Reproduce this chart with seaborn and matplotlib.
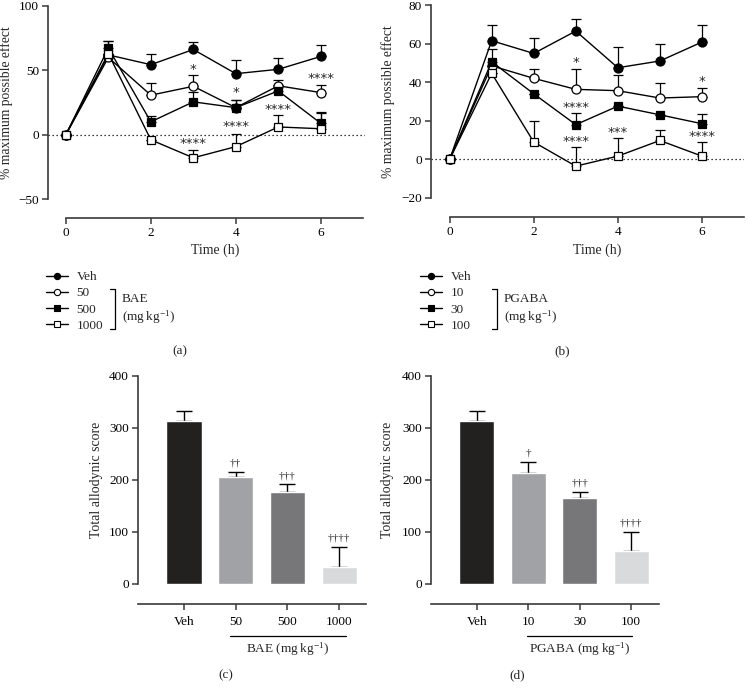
import numpy as np
import pandas as pd
import matplotlib
matplotlib.use("Agg")
import matplotlib.pyplot as plt
from matplotlib.lines import Line2D
import seaborn as sns

sns.set_style("ticks")
plt.rcParams['font.family'] = ['Liberation Serif', 'DejaVu Serif']
plt.rcParams['mathtext.fontset'] = 'custom'
plt.rcParams['mathtext.rm'] = 'Liberation Serif'
plt.rcParams['mathtext.it'] = 'Liberation Serif:italic'

# ---- data ----
hours = [0, 1, 2, 3, 4, 5, 6]

bae_groups = ["Veh", "50", "500", "1000"]
bae_mean = {
    "Veh":  [0, 62, 54.4, 66.2, 47.4, 50.8, 60.8],
    "50":   [0, 60, 30.7, 37.6, 21.0, 38.0, 32.7],
    "500":  [0, 67.3, 10.0, 25.5, 21.0, 34.0, 8.8],
    "1000": [0, 63, -4.0, -18.0, -9.3, 6.0, 4.6],
}
bae_err = {
    "Veh":  [0, 11, 8.2, 5.8, 10.3, 8.7, 8.8],
    "50":   [0, 0, 9.3, 9.0, 6.0, 4.5, 6.0],
    "500":  [0, 5.7, 4.4, 8.0, 6.0, 4.7, 9.0],
    "1000": [0, 0, 0, 6.4, 9.8, 9.2, 12.4],
}
bae_stars = [(3, 51, "*"), (3, -7, "****"), (4, 32.5, "*"), (4, 6, "****"),
             (5, 19.6, "****"), (6, 44, "****")]

pgaba_groups = ["Veh", "10", "30", "100"]
pgaba_mean = {
    "Veh": [0, 61.5, 54.9, 66.5, 47.5, 51.0, 60.8],
    "10":  [0, 48.5, 42.0, 36.3, 35.6, 31.8, 32.5],
    "30":  [0, 50.6, 34.0, 18.0, 27.6, 23.1, 18.5],
    "100": [0, 44.6, 9.0, -3.5, 1.7, 9.8, 1.7],
}
pgaba_err = {
    "Veh": [0, 8.1, 8.1, 6.4, 10.7, 8.9, 8.8],
    "10":  [0, 0, 5.0, 10.7, 8.1, 7.9, 4.5],
    "30":  [0, 6.4, 0, 5.8, 0, 0, 5.2],
    "100": [0, 0, 10.9, 9.9, 9.5, 5.6, 7.3],
}
pgaba_stars = [(3, 50, "*"), (3, 26.8, "****"), (3, 9.5, "****"), (4, 13.8, "***"),
               (6, 40.6, "*"), (6, 12, "****")]

bar_colors = ["#231f20", "#a1a2a5", "#76777a", "#d9dadb"]
bae_total = [313, 206, 176, 32]
bae_total_err = [19, 10, 16, 39.5]
bae_daggers = ["", "\u2020\u2020", "\u2020\u2020\u2020", "\u2020\u2020\u2020\u2020"]
pgaba_total = [314, 213, 166, 64]
pgaba_total_err = [18, 22, 11, 36]
pgaba_daggers = ["", "\u2020", "\u2020\u2020\u2020", "\u2020\u2020\u2020\u2020"]

styles = [dict(marker="o", mfc="black"), dict(marker="o", mfc="white"),
          dict(marker="s", mfc="black"), dict(marker="s", mfc="white")]

W, H = 748, 694
fig = plt.figure(figsize=(W / 100, H / 100), dpi=100)
spine_col = "#3a3a3a"
fs = 9.5


def fpos(left, right, top, bottom):
    return [left / W, 1 - bottom / H, (right - left) / W, (bottom - top) / H]


def time_panel(rect, groups, means, errs, stars, ylim, yticks, xlim):
    ax = fig.add_axes(fpos(*rect))
    for g, st in zip(groups, styles):
        df = pd.DataFrame({"t": hours, "v": means[g]})
        sns.lineplot(data=df, x="t", y="v", ax=ax, color="black", lw=1.0,
                     marker=st["marker"], markerfacecolor=st["mfc"],
                     markeredgecolor="black", markersize=6.5 if st["marker"] == "o" else 6.2,
                     markeredgewidth=0.9, zorder=3, label=g)
        e = np.array(errs[g])
        ax.errorbar(hours, means[g], yerr=[np.zeros_like(e), e], fmt="none",
                    ecolor="black", elinewidth=0.9, capsize=3.6, capthick=0.9, zorder=2)
    ax.axhline(0, color="black", ls=(0, (1, 2.2)), lw=0.9, zorder=1)
    for x, y, s in stars:
        ax.text(x, y, s, ha="center", va="center", fontsize=9.5, family="DejaVu Sans")
    ax.set_xlim(*xlim)
    ax.set_ylim(*ylim)
    ax.set_yticks(yticks)
    ax.set_xticks([0, 2, 4, 6])
    ax.spines[["top", "right"]].set_visible(False)
    ax.spines["bottom"].set_position(("outward", 14))
    ax.spines["bottom"].set_bounds(0, 7)
    ax.spines["left"].set_bounds(ylim[0], ylim[1])
    for s in ("left", "bottom"):
        ax.spines[s].set_color(spine_col)
        ax.spines[s].set_linewidth(1.2)
    ax.tick_params(colors=spine_col, labelcolor="black", labelsize=fs, length=4, width=1.1,
                   pad=2.5)
    ax.set_xlabel("Time (h)", fontsize=fs + 0.5)
    ax.set_ylabel("% maximum possible effect", fontsize=fs + 0.3)
    ax.get_legend().remove()
    return ax


ax_a = time_panel((48, 365, 6, 199), bae_groups, bae_mean, bae_err, bae_stars,
                  (-50, 100), [-50, 0, 50, 100], (-0.42, 7.04))
ax_a.yaxis.set_label_coords(-0.11, 0.5)
ax_a.xaxis.set_label_coords((215.5 - 48) / 317, -0.23)

ax_b = time_panel((430.7, 744, 5, 198), pgaba_groups, pgaba_mean, pgaba_err, pgaba_stars,
                  (-20, 80), [-20, 0, 20, 40, 60, 80], (-0.45, 7.0))
ax_b.yaxis.set_label_coords(-0.114, 0.5)
ax_b.xaxis.set_label_coords((597 - 430.7) / 313.3, -0.235)


def legend_block(ax, groups, x0, bx, tx, drug):
    handles = [Line2D([], [], color="black", lw=1.0, marker=st["marker"],
                      markerfacecolor=st["mfc"], markeredgecolor="black",
                      markersize=4.5, markeredgewidth=0.8) for st in styles]
    fig.legend(handles, groups, loc="upper left", bbox_to_anchor=(x0 / W, 1 - 271 / H),
               frameon=False, fontsize=fs, handlelength=1.7, handletextpad=0.6,
               labelspacing=0.3, borderpad=0, borderaxespad=0)
    fig.add_artist(Line2D([bx / W, (bx + 5) / W, (bx + 5) / W, bx / W],
                          [1 - 289 / H, 1 - 289 / H, 1 - 329 / H, 1 - 329 / H],
                          color="black", lw=0.9))
    fig.text(tx / W, 1 - 299 / H, drug, fontsize=fs, va="center")
    fig.text(tx / W, 1 - 317 / H, "(mg\u2009kg$^{-1}$)", fontsize=fs, va="center")


legend_block(ax_a, bae_groups, 46, 110, 122, "BAE")
legend_block(ax_b, pgaba_groups, 420, 492, 504, "PGABA")
fig.text(180 / W, 1 - 351 / H, "(a)", fontsize=fs, ha="center", va="center")
fig.text(562 / W, 1 - 351 / H, "(b)", fontsize=fs, ha="center", va="center")


def bar_panel(rect, groups, vals, errs, daggers, drug, line_x, xlim, tag_x, tag, ylab_x):
    ax = fig.add_axes(fpos(*rect))
    df = pd.DataFrame({"g": groups, "v": vals})
    sns.barplot(data=df, x="g", y="v", hue="g", palette=bar_colors, width=0.68,
                ax=ax, legend=False, zorder=3)
    pos = np.arange(len(groups))
    e = np.array(errs)
    ax.errorbar(pos, vals, yerr=[np.zeros_like(e), e], fmt="none", ecolor="black",
                elinewidth=1.0, capsize=6, capthick=1.0, zorder=2)
    for p, v, er, d in zip(pos, vals, errs, daggers):
        if d:
            ax.text(p, v + er + 8, d, ha="center", va="bottom", fontsize=8)
    ax.set_xlim(*xlim)
    ax.set_ylim(0, 400)
    ax.set_yticks([0, 100, 200, 300, 400])
    ax.spines[["top", "right"]].set_visible(False)
    ax.spines["bottom"].set_position(("outward", 14.4))
    for s in ("left", "bottom"):
        ax.spines[s].set_color(spine_col)
        ax.spines[s].set_linewidth(1.2)
    ax.tick_params(colors=spine_col, labelcolor="black", labelsize=fs, length=4, width=1.1,
                   pad=2.5)
    ax.tick_params(axis="x", pad=4.5)
    ax.set_xlabel("")
    ax.set_ylabel("Total allodynic score", fontsize=fs + 0.5)
    ax.yaxis.set_label_coords(ylab_x, 0.5)
    tr = ax.get_xaxis_transform()
    ax.add_line(Line2D(line_x, [-0.25, -0.25], transform=tr, color="black", lw=0.9,
                       clip_on=False))
    ax.text(2.0, -0.315, drug + " (mg\u2009kg$^{-1}$)", transform=tr, ha="center",
            va="center", fontsize=fs)
    ax.text(tag_x, -0.437, tag, transform=tr, ha="center", va="center", fontsize=fs)
    return ax


bar_panel((138, 366, 376, 584), bae_groups, bae_total, bae_total_err, bae_daggers,
          "BAE", [0.89, 3.13], (-0.89, 3.52), (226 - 184) / 51.7, "(c)", -0.153)
bar_panel((431, 659, 376, 584), pgaba_groups, pgaba_total, pgaba_total_err, pgaba_daggers,
          "PGABA", [0.97, 3.02], (-0.89, 3.54), (518 - 477) / 51.7, "(d)", -0.162)

fig.savefig("out.png", dpi=100)
